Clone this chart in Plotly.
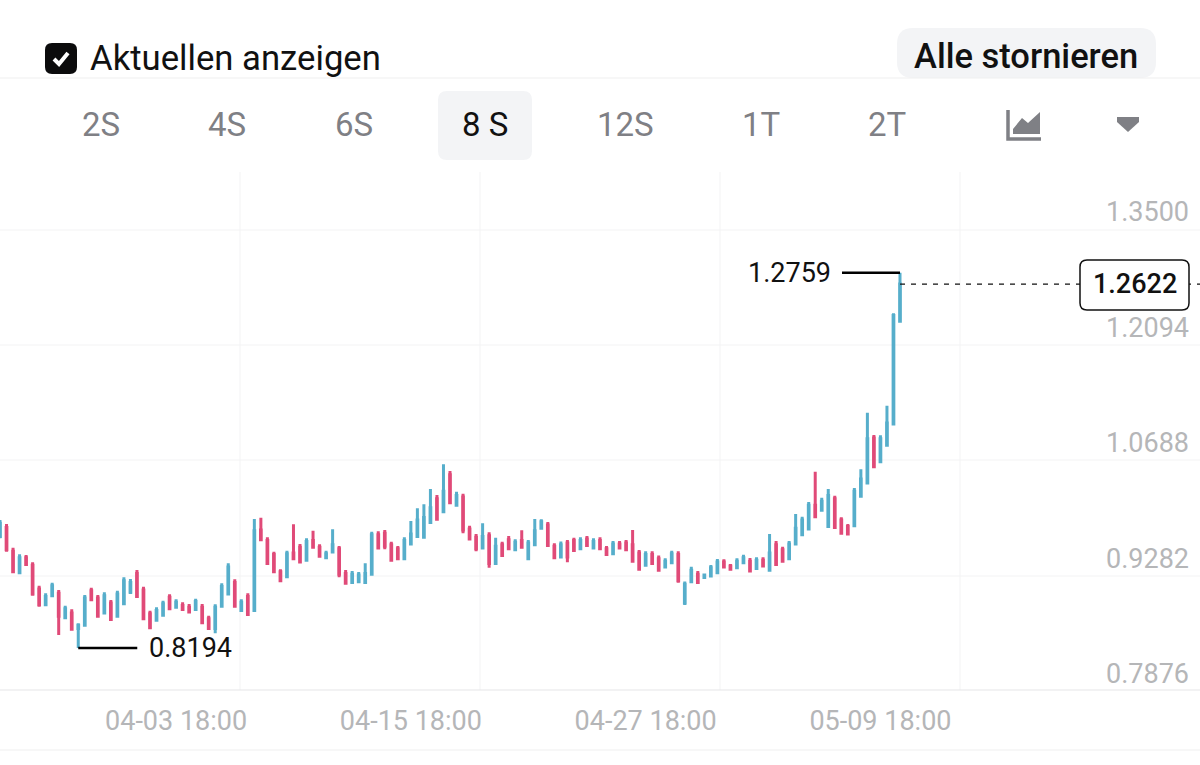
import pandas as pd
import plotly.graph_objects as go

W, H = 1200, 765
PLOT_TOP, PLOT_BOTTOM = 172, 702

high = [.9751,.9702,.9414,.9333,.9325,.9235,.8951,.8858,.8988,.8899,.8708,.8663,.8493,.8838,.8927,.8838,.8870,.8777,.8890,.9053,
        .9032,.9142,.8939,.8647,.8688,.8769,.8846,.8785,.8748,.8728,.8793,.8728,.8586,.8724,.8980,.9223,.9028,.8785,.8858,.9763,
        .9779,.9540,.9365,.9150,.9377,.9698,.9459,.9528,.9621,.9455,.9377,.9637,.9434,.9142,.9130,.9118,.9223,.9609,.9613,.9629,
        .9487,.9434,.9540,.9739,.9893,.9941,1.0128,1.0055,1.0428,1.0347,1.0096,1.0071,.9682,.9580,.9710,.9601,.9536,.9487,.9556,
        .9515,.9625,.9507,.9763,.9759,.9726,.9467,.9490,.9507,.9536,.9540,.9556,.9528,.9540,.9434,.9495,.9495,.9507,.9629,.9385,
        .9369,.9369,.9317,.9284,.9377,.9369,.9001,.9183,.9130,.9093,.9203,.9276,.9272,.9215,
        .9284,.9329,.9288,.9296,.9296,.9580,.9495,.9426,.9495,.9824,.9791,.9970,1.0339,1.0023,1.0128,1.0047,.9783,.9702,1.0140,
        1.0367,1.1057,1.0785,1.0781,1.1142,1.2266,1.2759]
low = [.9528,.9365,.9101,.9089,.9191,.8830,.8696,.8704,.8809,.8351,.8541,.8404,.8194,.8452,.8765,.8566,.8606,.8525,.8566,.8716,
       .8850,.8805,.8533,.8420,.8513,.8574,.8655,.8675,.8643,.8615,.8643,.8485,.8412,.8371,.8688,.8838,.8688,.8635,.8586,.8635,
       .9495,.9203,.9110,.9000,.9049,.9264,.9223,.9252,.9414,.9296,.9276,.9345,.9053,.8972,.8980,.8988,.8980,.9073,.9394,.9394,
       .9244,.9264,.9272,.9446,.9536,.9528,.9702,.9743,.9832,.9946,.9913,.9588,.9507,.9369,.9394,.9170,.9203,.9304,.9386,
       .9373,.9402,.9260,.9438,.9637,.9426,.9276,.9284,.9235,.9365,.9385,.9426,.9394,.9385,.9312,.9325,.9398,.9377,.9231,.9134,
       .9183,.9203,.9122,.9162,.9211,.8988,.8717,.8988,.8976,.9037,.9061,.9093,.9162,.9142,
       .9162,.9215,.9122,.9150,.9183,.9122,.9195,.9239,.9272,.9442,.9560,.9629,.9771,.9852,.9653,.9645,.9572,.9568,.9661,
       1.0027,1.0189,1.0388,1.0449,1.0643,1.0901,1.2157]
open_ = [.955,.966,.937,.911,.929,.920,.891,.872,.883,.886,.856,.862,.843,.847,.889,.880,.862,.874,.858,.873,
         .887,.910,.890,.861,.853,.859,.881,.869,.871,.869,.866,.869,.855,.843,.870,.885,.899,.865,.882,.865,
         .963,.950,.933,.912,.906,.935,.942,.926,.950,.942,.929,.936,.940,.910,.899,.900,.899,.909,.957,.959,
         .945,.940,.928,.946,.955,.954,.972,1.001,.985,1.030,.993,1.003,.964,.954,.941,.956,.922,.945,.951,
         .939,.950,.928,.945,.965,.969,.943,.930,.947,.950,.940,.952,.941,.950,.940,.934,.946,.947,.945,.935,
         .920,.933,.928,.918,.923,.933,.874,.900,.909,.905,.907,.911,.924,.919,
         .917,.923,.925,.916,.926,.914,.945,.939,.928,.946,.957,.964,.993,.987,.967,1.001,.975,.967,.968,
         1.004,1.020,1.075,1.046,1.066,1.092,1.217]
close = [.971,.939,.912,.929,.921,.885,.872,.882,.895,.858,.867,.842,.847,.880,.878,.858,.883,.854,.885,.901,
         .899,.882,.855,.844,.865,.873,.867,.875,.866,.863,.876,.850,.843,.869,.894,.918,.870,.875,.860,.962,
         .951,.922,.912,.901,.934,.928,.924,.949,.942,.931,.934,.945,.909,.898,.909,.908,.910,.957,.941,.943,
         .926,.928,.950,.958,.975,.978,.990,.976,1.010,.996,1.005,.963,.952,.940,.955,.922,.943,.932,.940,
         .948,.942,.947,.962,.973,.944,.929,.945,.930,.938,.950,.944,.949,.940,.933,.946,.941,.939,.925,.915,
         .933,.922,.914,.925,.934,.901,.897,.914,.899,.908,.917,.924,.918,.915,
         .925,.929,.913,.926,.919,.935,.921,.925,.946,.965,.975,.993,.979,.998,1.005,.966,.959,.958,1.010,
         1.025,1.074,1.040,1.074,1.093,1.224,1.2622]
time = pd.date_range("2025-03-25 18:00", periods=len(high), freq="8h")

x_tick_vals = ["2025-04-03 18:00", "2025-04-15 18:00", "2025-04-27 18:00", "2025-05-09 18:00"]
x_tick_text = ["04-03 18:00", "04-15 18:00", "04-27 18:00", "05-09 18:00"]
price_ticks = [1.35, 1.2094, 1.0688, 0.9282, 0.7876]
price_labels = ["1.3500", "1.2094", "1.0688", "0.9282", "0.7876"]
interval_labels = ["2S", "4S", "6S", "8 S", "12S", "1T", "2T"]
interval_x = [101, 227, 354, 485, 626, 761, 887]

LAST_PRICE = 1.2622
INK = "#111111"
GREY = "#7f8085"
TICK = "#b5b6b8"
GRID = "#f3f3f4"
BLUE = "#56aecb"
RED = "#e04a78"
FONT = "Roboto"


def px(x):
    return x / W


def py(y):
    return (PLOT_BOTTOM - y) / (PLOT_BOTTOM - PLOT_TOP)


def rrect(x0, y0, x1, y1, r):
    a, b, c, d = px(x0), py(y0), px(x1), py(y1)
    rx, ry = r / W, r / (PLOT_BOTTOM - PLOT_TOP)
    return (f"M{a+rx},{b} L{c-rx},{b} Q{c},{b} {c},{b-ry} L{c},{d+ry} Q{c},{d} {c-rx},{d} "
            f"L{a+rx},{d} Q{a},{d} {a},{d+ry} L{a},{b-ry} Q{a},{b} {a+rx},{b} Z")


def poly(points):
    return "M" + " L".join(f"{px(x)},{py(y)}" for x, y in points) + " Z"


def pline(points):
    return "M" + " L".join(f"{px(x)},{py(y)}" for x, y in points)


shapes = []
for gy in [230, 345, 460, 576]:
    shapes.append(dict(type="line", xref="paper", yref="paper", x0=0, x1=1, y0=py(gy), y1=py(gy),
                       line=dict(color=GRID, width=1), layer="below"))
for gx in [240, 480, 720, 960]:
    shapes.append(dict(type="line", xref="paper", yref="paper", x0=px(gx), x1=px(gx), y0=py(690), y1=1,
                       line=dict(color=GRID, width=1), layer="below"))
for gy, col in [(690, "#e6e6e8"), (750, "#efeff0")]:
    shapes.append(dict(type="line", xref="paper", yref="paper", x0=0, x1=1, y0=py(gy), y1=py(gy),
                       line=dict(color=col, width=1.2), layer="below"))
# top UI
shapes.append(dict(type="path", xref="paper", yref="paper", path=rrect(897, 28, 1156, 78, 16),
                   fillcolor="#f3f4f6", line=dict(width=0), layer="below"))
shapes.append(dict(type="line", xref="paper", yref="paper", x0=0, x1=1, y0=py(78), y1=py(78),
                   line=dict(color="#efeff0", width=1.2), layer="below"))
shapes.append(dict(type="path", xref="paper", yref="paper", path=rrect(45, 43, 77, 74, 7),
                   fillcolor="#0b0b0c", line=dict(width=0)))
shapes.append(dict(type="path", xref="paper", yref="paper", path=pline([(54, 59), (59, 64), (68, 53)]),
                   line=dict(color="white", width=4)))
shapes.append(dict(type="path", xref="paper", yref="paper", path=rrect(438, 91, 532, 160, 9),
                   fillcolor="#f3f4f6", line=dict(width=0), layer="below"))
# chart-type icon and dropdown triangle
shapes.append(dict(type="path", xref="paper", yref="paper",
                   path=pline([(1008, 110), (1008, 139), (1041, 139)]), line=dict(color=GREY, width=3.5)))
shapes.append(dict(type="path", xref="paper", yref="paper",
                   path=poly([(1013, 134), (1013, 129), (1022, 118), (1028, 123), (1040, 112), (1040, 134)]),
                   fillcolor=GREY, line=dict(width=0)))
shapes.append(dict(type="path", xref="paper", yref="paper",
                   path=poly([(1117, 117), (1139, 117), (1139, 122), (1128, 132), (1117, 122)]),
                   fillcolor=GREY, line=dict(width=0)))
# last-price line and box
shapes.append(dict(type="line", xref="x", yref="y", x0=time[-1], x1=time[0] + (time[-1] - time[0]) * (1200 / 900),
                   y0=LAST_PRICE, y1=LAST_PRICE, line=dict(color=INK, width=1.2, dash="5px,6px")))
shapes.append(dict(type="path", xref="paper", yref="paper", path=rrect(1080, 260, 1189, 310, 7),
                   fillcolor="white", line=dict(color=INK, width=1.5)))

annotations = [
    dict(xref="paper", yref="paper", x=px(88), y=py(58), text="Aktuellen anzeigen", showarrow=False,
         xanchor="left", yanchor="middle", font=dict(family=FONT, size=34.7, color=INK)),
    dict(xref="paper", yref="paper", x=px(1026), y=py(56), text="Alle stornieren", showarrow=False,
         xanchor="center", yanchor="middle", font=dict(family=FONT, size=34.5, color=INK, weight=500)),
    dict(xref="paper", yref="paper", x=px(1135), y=py(284), text=f"{LAST_PRICE:.4f}", showarrow=False,
         xanchor="center", yanchor="middle", font=dict(family=FONT, size=27, color=INK, weight=500)),
    dict(x=time[12], y=low[12], xref="x", yref="y", text=f"{low[12]:.4f}", showarrow=True, arrowhead=0,
         arrowwidth=2.5, arrowcolor="#000000", ax=112, ay=0, borderpad=11, standoff=0,
         font=dict(family=FONT, size=27, color=INK)),
    dict(x=time[138], y=high[138], xref="x", yref="y", text=f"{high[138]:.4f}", showarrow=True, arrowhead=0,
         arrowwidth=2.5, arrowcolor="#000000", ax=-111, ay=0, borderpad=11, standoff=0,
         font=dict(family=FONT, size=27, color=INK)),
]
for label, lx in zip(interval_labels, interval_x):
    annotations.append(dict(xref="paper", yref="paper", x=px(lx), y=py(125), text=label, showarrow=False,
                            xanchor="center", yanchor="middle",
                            font=dict(family=FONT, size=33, color=INK if label == "8 S" else GREY)))

fig = go.Figure(go.Candlestick(
    x=time, open=open_, high=high, low=low, close=close,
    increasing=dict(line=dict(color=BLUE, width=3), fillcolor=BLUE),
    decreasing=dict(line=dict(color=RED, width=3), fillcolor=RED),
    whiskerwidth=0, hoverinfo="skip",
))
y_bottom = 1.60806 - 0.0012173 * PLOT_BOTTOM
y_top = 1.60806 - 0.0012173 * PLOT_TOP
fig.update_layout(
    width=W, height=H, autosize=False,
    margin=dict(l=0, r=0, t=PLOT_TOP, b=H - PLOT_BOTTOM),
    paper_bgcolor="white", plot_bgcolor="rgba(0,0,0,0)",
    showlegend=False, boxgap=0.84,
    shapes=shapes, annotations=annotations,
    xaxis=dict(type="date", rangeslider=dict(visible=False), showgrid=False, zeroline=False,
               range=[time[0], time[0] + (time[-1] - time[0]) * (1200 / 900)],
               tickmode="array", tickvals=x_tick_vals, ticktext=x_tick_text,
               ticks="", tickfont=dict(family=FONT, size=27, color=TICK)),
    yaxis=dict(side="right", showgrid=False, zeroline=False, ticklabelposition="inside",
               range=[y_bottom, y_top], tickmode="array", tickvals=price_ticks, ticktext=price_labels,
               ticks="", ticklabelstandoff=8,
               tickfont=dict(family=FONT, size=27, color=TICK)),
)
fig.write_html("out.html", config=dict(displayModeBar=False),
               post_script="document.body.style.margin='0';")
